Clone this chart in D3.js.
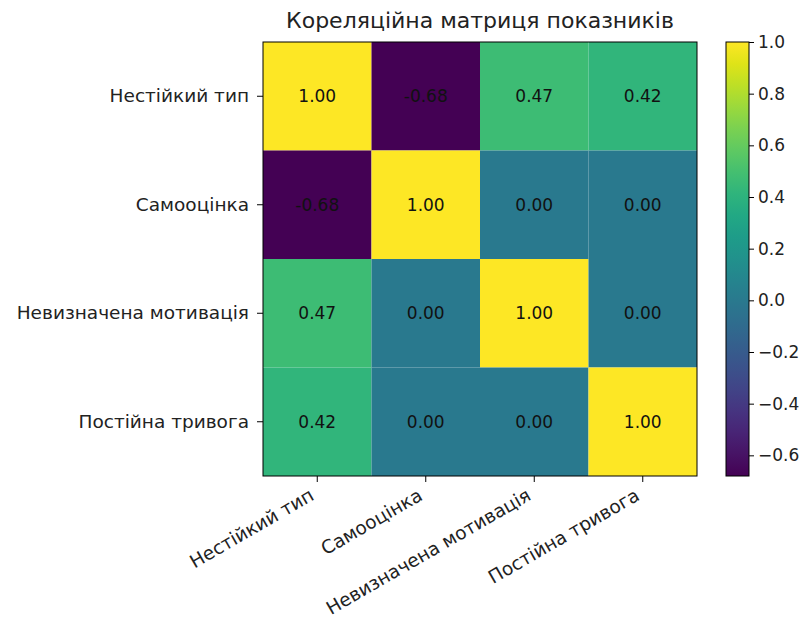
<!DOCTYPE html>
<html>
<head>
<meta charset="utf-8">
<script src="https://cdn.jsdelivr.net/npm/d3@7"></script>
<style>
  body { margin: 0; background: #fff; }
  svg { font-family: "DejaVu Sans", sans-serif; }
</style>
</head>
<body>
<svg id="chart" width="808" height="623"></svg>
<script>
// Indicators and their pairwise correlations
const categories = ["Нестійкий тип", "Самооцінка", "Невизначена мотивація", "Постійна тривога"];
const rowUnstable   = [1.00, -0.68, 0.47, 0.42];
const rowSelfEsteem = [-0.68, 1.00, 0.00, 0.00];
const rowMotivation = [0.47, 0.00, 1.00, 0.00];
const rowAnxiety    = [0.42, 0.00, 0.00, 1.00];
const rows = [rowUnstable, rowSelfEsteem, rowMotivation, rowAnxiety];
const colorbarTicks = [-0.6, -0.4, -0.2, 0.0, 0.2, 0.4, 0.6, 0.8, 1.0];
const titleText = "Кореляційна матриця показників";

const svg = d3.select("#chart");
const plotLeft = 263, plotTop = 42, size = 434;
const tickFont = 18.5, cellFont = 17, cbFont = 17, titleFont = 22;
const vmin = d3.min(rows.flat()), vmax = d3.max(rows.flat());

const x = d3.scaleBand().domain(categories).range([plotLeft, plotLeft + size]);
const y = d3.scaleBand().domain(categories).range([plotTop, plotTop + size]);
const color = d3.scaleSequential(d3.interpolateViridis).domain([vmin, vmax]);

const cells = [];
rows.forEach((r, i) => r.forEach((v, j) => cells.push({ row: categories[i], col: categories[j], v })));

svg.append("g").selectAll("rect").data(cells).join("rect")
  .attr("x", d => x(d.col)).attr("y", d => y(d.row))
  .attr("width", x.bandwidth()).attr("height", y.bandwidth())
  .attr("fill", d => color(d.v));

svg.append("g").selectAll("text").data(cells).join("text")
  .attr("x", d => x(d.col) + x.bandwidth() / 2)
  .attr("y", d => y(d.row) + y.bandwidth() / 2)
  .attr("text-anchor", "middle").attr("dominant-baseline", "central")
  .attr("font-size", cellFont).attr("fill", "#111")
  .text(d => d.v.toFixed(2));

// frame around the matrix
svg.append("rect").attr("x", plotLeft).attr("y", plotTop).attr("width", size).attr("height", size)
  .attr("fill", "none").attr("stroke", "#000").attr("stroke-width", 1);

// y axis
const yAxis = d3.axisLeft(y).tickSize(6).tickPadding(8).tickSizeOuter(0);
const gy = svg.append("g").attr("transform", `translate(${plotLeft},0)`).call(yAxis);
gy.select(".domain").remove();
gy.selectAll("text").attr("font-size", tickFont).attr("fill", "#222").attr("font-family", "DejaVu Sans");
gy.selectAll("line").attr("stroke", "#000");

// x axis with rotated labels
const xAxis = d3.axisBottom(x).tickSize(6).tickSizeOuter(0).tickFormat("");
const gx = svg.append("g").attr("transform", `translate(0,${plotTop + size})`).call(xAxis);
gx.select(".domain").remove();
gx.selectAll("line").attr("stroke", "#000");
const labTop = plotTop + size + 9;
svg.append("g").selectAll("text").data(categories).join("text")
  .attr("font-size", tickFont).attr("fill", "#222").attr("text-anchor", "end")
  .attr("transform", d => `translate(${x(d) + x.bandwidth() / 2 - 2},${labTop + 14}) rotate(-30)`)
  .text(d => d);

// title
svg.append("text").attr("x", plotLeft + size / 2).attr("y", 28)
  .attr("text-anchor", "middle").attr("font-size", titleFont).attr("fill", "#222")
  .text(titleText);

// colorbar
const cbX = 726, cbW = 23;
const cbScale = d3.scaleLinear().domain([vmin, vmax]).range([plotTop + size, plotTop]);
const grad = svg.append("defs").append("linearGradient").attr("id", "cbgrad")
  .attr("x1", 0).attr("y1", 1).attr("x2", 0).attr("y2", 0);
d3.range(0, 1.0001, 0.05).forEach(t => {
  grad.append("stop").attr("offset", t).attr("stop-color", d3.interpolateViridis(t));
});
svg.append("rect").attr("x", cbX).attr("y", plotTop).attr("width", cbW).attr("height", size)
  .attr("fill", "url(#cbgrad)").attr("stroke", "#000").attr("stroke-width", 1);
const cbAxis = d3.axisRight(cbScale).tickValues(colorbarTicks).tickSize(5).tickPadding(4)
  .tickFormat(d => d3.format(".1f")(d).replace("-", "−"));
const gc = svg.append("g").attr("transform", `translate(${cbX + cbW},0)`).call(cbAxis);
gc.select(".domain").remove();
gc.selectAll("text").attr("font-size", cbFont).attr("fill", "#222").attr("font-family", "DejaVu Sans");
gc.selectAll("line").attr("stroke", "#000");
</script>
</body>
</html>
